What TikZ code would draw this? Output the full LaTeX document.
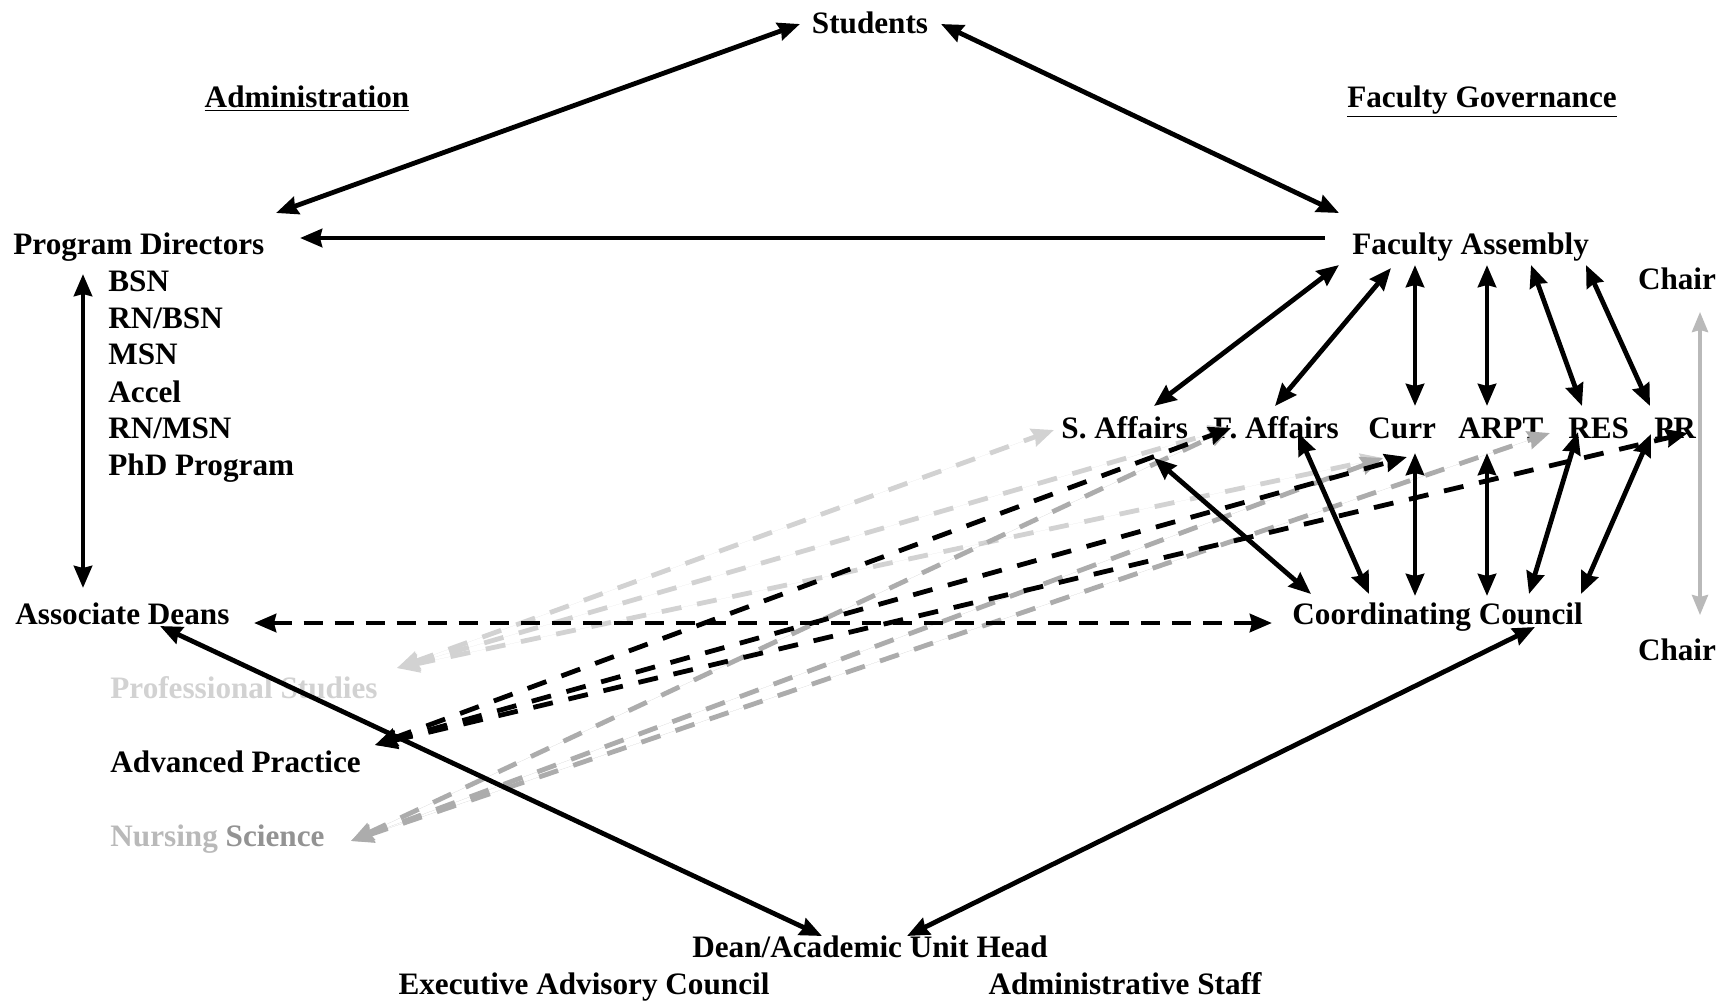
\documentclass[tikz,border=0pt]{standalone}
\usepackage{fontspec}
\setmainfont{Liberation Serif}
\usetikzlibrary{arrows.meta,calc}
\begin{document}
\begin{tikzpicture}[x=0.5pt,y=-0.5pt,
  hd/.tip={Stealth[length=11pt,width=9pt,inset=1pt]},
  lbl/.style={font=\fontsize{15.6}{18}\selectfont\bfseries, inner sep=0pt},
  arr/.style={line width=2.4pt, hd-hd},
  arrone/.style={line width=2.4pt, -hd},
  dsh/.style={line width=2.4pt, hd-hd, dash pattern=on 9.5pt off 6pt},
  grpps/.style={line width=2.4pt, hd-hd, dash pattern=on 10pt off 8pt, draw=gray!35, fill=gray!35},
  grpap/.style={line width=2.4pt, hd-hd, dash pattern=on 10pt off 8pt, draw=black},
  grpns/.style={line width=2.4pt, hd-hd, dash pattern=on 10pt off 8pt, draw=gray!65, fill=gray!65},
  chairln/.style={line width=1.8pt, draw=gray!55, {Stealth[length=10pt,width=8pt,inset=1pt]}-{Stealth[length=10pt,width=8pt,inset=1pt]}}
]
\useasboundingbox[fill=white] (0,0) rectangle (1731,1003);

% nodes
\node[lbl,anchor=base] (students) at (870,33) {Students};
\node[lbl,anchor=base] (admin) at (307,107) {\underline{Administration}};
\node[lbl,anchor=base] (facgov) at (1482,107) {\underline{Faculty Governance}};
\node[lbl,anchor=base west] (pd) at (13,254) {Program Directors};
\node[lbl,anchor=base west] (bsn) at (108,291) {BSN};
\node[lbl,anchor=base west] (rnbsn) at (108,328) {RN/BSN};
\node[lbl,anchor=base west] (msn) at (108,364) {MSN};
\node[lbl,anchor=base west] (accel) at (108,402) {Accel};
\node[lbl,anchor=base west] (rnmsn) at (108,438) {RN/MSN};
\node[lbl,anchor=base west] (phd) at (108,475) {PhD Program};
\node[lbl,anchor=base west] (ad) at (15,624) {Associate Deans};
\node[lbl,anchor=base west,text=gray!35] (ps) at (110,698) {Professional Studies};
\node[lbl,anchor=base west] (ap) at (110,772) {Advanced Practice};
\node[lbl,anchor=base west] (ns) at (110,846) {\textcolor{gray!55}{Nursing} \textcolor{gray!85}{Science}};
\node[lbl,anchor=base] (dean) at (870,957) {Dean/Academic Unit Head};
\node[lbl,anchor=base] (eac) at (584,994) {Executive Advisory Council};
\node[lbl,anchor=base] (as) at (1125,994) {Administrative Staff};
\node[lbl,anchor=base west] (fa) at (1352,254) {Faculty Assembly};
\node[lbl,anchor=base] (chairT) at (1677,289) {Chair};
\node[lbl,anchor=base] (chairB) at (1677,660) {Chair};
\node[lbl,anchor=base west] (sa) at (1061,438) {S. Affairs};
\node[lbl,anchor=base west] (faf) at (1213,438) {F. Affairs};
\node[lbl,anchor=base west] (curr) at (1368,438) {Curr};
\node[lbl,anchor=base west] (arpt) at (1458,438) {ARPT};
\node[lbl,anchor=base west] (res) at (1568,438) {RES};
\node[lbl,anchor=base west] (pr) at (1654,438) {PR};
\node[lbl,anchor=base west] (cc) at (1292,624) {Coordinating Council};

% dashed department lines
\draw[grpps] ($(ps.base west)+(287,-30)$) -- ($(sa.base west)+(-7,-8)$);
\draw[grpps] ($(ps.base west)+(287,-30)$) -- ($(faf.base west)+(18,-10)$);
\draw[grpps] ($(ps.base west)+(287,-30)$) -- ($(curr.base west)+(15,20)$);
\draw[grpns] ($(ns.base west)+(241,-5)$) -- ($(faf.base west)+(18,-10)$);
\draw[grpns] ($(ns.base west)+(241,-5)$) -- ($(curr.base west)+(15,20)$);
\draw[grpns] ($(ns.base west)+(241,-5)$) -- ($(arpt.base west)+(92,-5)$);
\draw[grpap] ($(ap.base west)+(265,-27)$) -- ($(faf.base west)+(18,-10)$);
\draw[grpap] ($(ap.base west)+(265,-27)$) -- ($(curr.base west)+(39,19)$);
\draw[grpap] ($(ap.base west)+(265,-27)$) -- ($(pr.base west)+(34,-5)$);

% solid connectors
\draw[arr] ($(students.base)+(-70,-9)$) -- ($(pd.base west)+(263,-41)$);
\draw[arr] ($(students.base)+(71,-9)$) -- ($(fa.base west)+(-13,-41)$);
\draw[arrone] ($(fa.base west)+(-27,-16)$) -- ($(pd.base west)+(287,-16)$);
\draw[arr] ($(pd.base west)+(70,20)$) -- ($(ad.base west)+(68,-36)$);
\draw[dsh] ($(ad.base west)+(239,-1)$) -- ($(cc.base west)+(-20,-1)$);
\draw[arr] ($(ad.base west)+(145,2)$) -- ($(dean.base)+(-48,-21)$);
\draw[arr] ($(cc.base west)+(243,3)$) -- ($(dean.base)+(37,-21)$);

\draw[arr] ($(fa.base west)+(-13,11)$) -- ($(sa.base west)+(93,-32)$);
\draw[arr] ($(fa.base west)+(39,14)$) -- ($(faf.base west)+(62,-32)$);
\draw[arr] ($(fa.base west)+(63,11)$) -- ($(curr.base west)+(47,-32)$);
\draw[arr] ($(fa.base west)+(135,11)$) -- ($(arpt.base west)+(29,-32)$);
\draw[arr] ($(fa.base west)+(179,11)$) -- ($(res.base west)+(14,-32)$);
\draw[arr] ($(fa.base west)+(234,11)$) -- ($(pr.base west)+(-4,-32)$);

\draw[arr] ($(sa.base west)+(93,20)$) -- ($(cc.base west)+(19,-30)$);
\draw[arr] ($(faf.base west)+(85,-5)$) -- ($(cc.base west)+(77,-30)$);
\draw[arr] ($(curr.base west)+(47,15)$) -- ($(cc.base west)+(123,-28)$);
\draw[arr] ($(arpt.base west)+(29,15)$) -- ($(cc.base west)+(195,-28)$);
\draw[arr] ($(res.base west)+(10,-6)$) -- ($(cc.base west)+(237,-30)$);
\draw[arr] ($(pr.base west)+(-3,-4)$) -- ($(cc.base west)+(289,-30)$);

\draw[chairln] ($(chairT.base)+(23,23)$) -- ($(chairB.base)+(23,-45)$);
\end{tikzpicture}
\end{document}
